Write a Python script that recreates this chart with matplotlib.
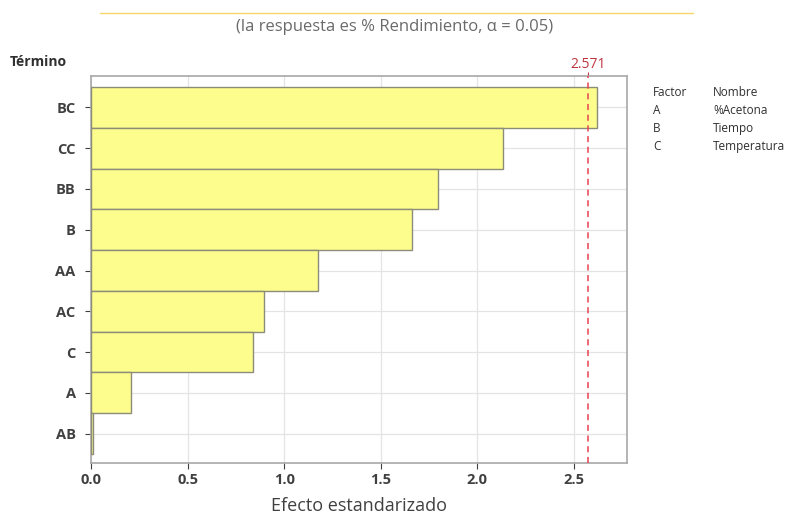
import matplotlib

matplotlib.use("Agg")
import matplotlib.pyplot as plt
from matplotlib.lines import Line2D

plt.rcParams.update(
    {
        "font.family": ["Open Sans", "DejaVu Sans"],
        "figure.dpi": 100,
    }
)

# Pareto of standardized effects (top to bottom)
terms = ["BC", "CC", "BB", "B", "AA", "AC", "C", "A", "AB"]
effects = [2.62, 2.134, 1.796, 1.661, 1.175, 0.895, 0.839, 0.207, 0.01]
critical = 2.571
x_ticks = [0.0, 0.5, 1.0, 1.5, 2.0, 2.5]

factor_codes = ["A", "B", "C"]
factor_names = ["%Acetona", "Tiempo", "Temperatura"]

fig = plt.figure(figsize=(7.88, 5.17))
ax = fig.add_axes([0.1155, 0.1044, 0.68, 0.7486])

ypos = list(range(len(terms)))[::-1]
ax.barh(ypos, effects, height=1.0, color="#fdfd8e", edgecolor="#8c8c78",
        linewidth=1.0, zorder=3)
ax.axvline(critical, color="#e8434f", linestyle=(0, (4, 3)), linewidth=1.1, zorder=4)

ax.set_xlim(0, 2.774)
ax.set_ylim(-0.72, len(terms) - 0.23)
ax.set_yticks(ypos)
ax.set_yticklabels(terms, fontweight="bold")
ax.set_xticks(x_ticks)
ax.set_xticklabels([f"{t:.1f}" for t in x_ticks], fontweight="bold")
ax.tick_params(colors="#404040", labelsize=10.5, length=4, width=0.8)
ax.tick_params(axis="y", pad=7)
ax.grid(True, color="#e4e4e4", linewidth=0.9, zorder=0)
ax.set_axisbelow(True)
for s in ax.spines.values():
    s.set_color("#a8a8a8")
    s.set_linewidth(1.2)

# critical value label on the top edge
ax2 = ax.secondary_xaxis("top")
ax2.set_xticks([critical])
ax2.set_xticklabels([f"{critical:.3f}"])
ax2.tick_params(colors="#c0343f", labelsize=10, length=3, width=0.8, pad=0)
ax2.spines["top"].set_visible(False)

ax.set_xlabel("Efecto estandarizado", fontsize=13, color="#404040", labelpad=7)
fig.text(0.013, 0.873, "Término", fontsize=10, fontweight="bold", color="#303030")

fig.text(0.501, 0.948, "(la respuesta es % Rendimiento, α = 0.05)", fontsize=12,
         color="#6a6a6a", ha="center", va="center")
fig.add_artist(Line2D([0.127, 0.879], [0.975, 0.975], color="#f5d66a", linewidth=1.0))

# factor table
rows_y = [0.822, 0.787, 0.752, 0.716]
fig.text(0.829, rows_y[0], "Factor", fontsize=8.5, color="#303030", va="center")
fig.text(0.905, rows_y[0], "Nombre", fontsize=8.5, color="#303030", va="center")
for y, c, n in zip(rows_y[1:], factor_codes, factor_names):
    fig.text(0.829, y, c, fontsize=8.5, color="#303030", va="center")
    fig.text(0.905, y, n, fontsize=8.5, color="#303030", va="center")

fig.savefig("out.png", dpi=100)
